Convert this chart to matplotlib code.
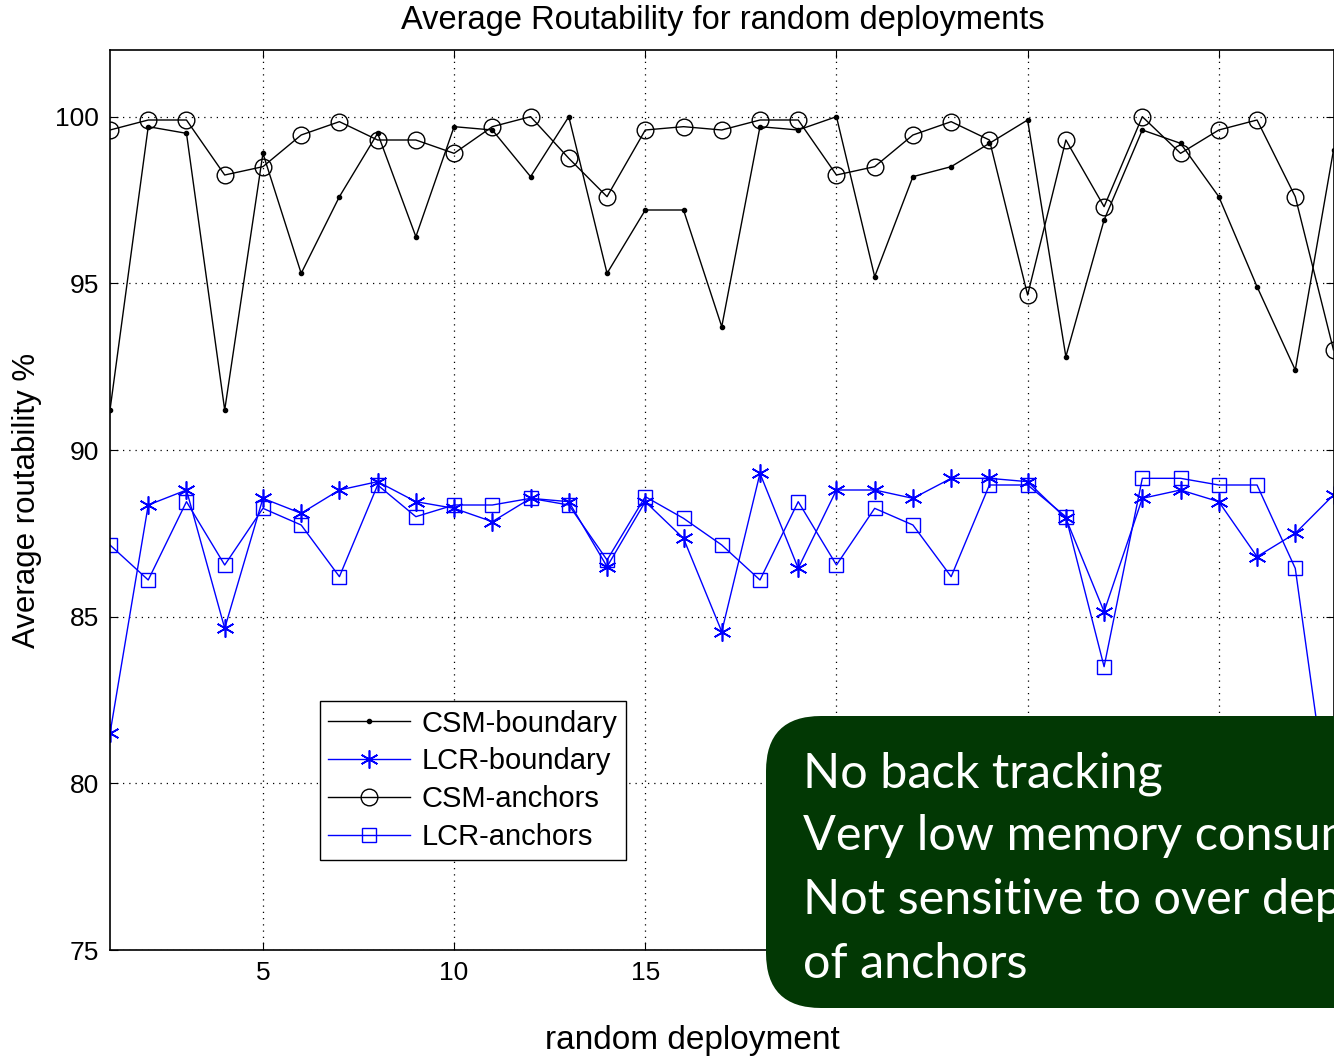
import numpy as np
import matplotlib
matplotlib.use("Agg")
import matplotlib.pyplot as plt
from matplotlib.patches import FancyBboxPatch

# routability per random deployment (percent)
deployments = np.arange(1, 34)
csm_boundary = [91.2, 99.7, 99.5, 91.2, 98.9, 95.3, 97.6, 99.5, 96.4, 99.7, 99.6,
                98.2, 100.0, 95.3, 97.2, 97.2, 93.7, 99.7, 99.6, 100.0, 95.2, 98.2,
                98.5, 99.2, 99.9, 92.8, 96.9, 99.6, 99.2, 97.6, 94.9, 92.4, 99.0]
lcr_boundary = [81.5, 88.35, 88.8, 84.65, 88.55, 88.1, 88.8, 89.05, 88.45, 88.25, 87.85,
                88.55, 88.45, 86.5, 88.45, 87.35, 84.55, 89.3, 86.45, 88.8, 88.8, 88.55,
                89.15, 89.15, 89.05, 87.95, 85.15, 88.55, 88.8, 88.45, 86.8, 87.5, 88.65]
csm_anchors = [99.6, 99.9, 99.9, 98.25, 98.5, 99.45, 99.85, 99.3, 99.3, 98.9, 99.7,
               100.0, 98.75, 97.6, 99.6, 99.7, 99.6, 99.9, 99.9, 98.25, 98.5, 99.45,
               99.85, 99.3, 94.65, 99.3, 97.3, 100.0, 98.9, 99.6, 99.9, 97.6, 93.0]
lcr_anchors = [87.15, 86.1, 88.45, 86.55, 88.25, 87.75, 86.2, 88.95, 88.0, 88.35, 88.35,
               88.55, 88.35, 86.7, 88.6, 87.95, 87.15, 86.1, 88.45, 86.55, 88.25, 87.75,
               86.2, 88.95, 88.95, 88.0, 83.5, 89.15, 89.15, 88.95, 88.95, 86.45, 78.2]

notes = ["No back tracking",
         "Very low memory consumption",
         "Not sensitive to over deployment",
         "of anchors"]

plt.rcParams['font.family'] = ['Liberation Sans', 'DejaVu Sans']

W, H = 1334, 1056
fig = plt.figure(figsize=(W / 100, H / 100), dpi=100)
ax = fig.add_axes([110 / W, 106 / H, (1333.5 - 110) / W, 900 / H])

blue = (0, 0, 1)
ax.plot(deployments, csm_boundary, color='k', lw=1, marker='.', ms=6, label='CSM-boundary')
ax.plot(deployments, lcr_boundary, color=blue, lw=1, marker=(6, 2, 0), ms=13, mew=1.2,
        label='LCR-boundary')
ax.plot(deployments, csm_anchors, color='k', lw=1, marker='o', ms=12, mfc='none', mew=1,
        label='CSM-anchors')
ax.plot(deployments, lcr_anchors, color=blue, lw=1, marker='s', ms=10, mfc='none', mew=1,
        label='LCR-anchors')

ax.set_xlim(1, 33)
ax.set_ylim(75, 102)
ax.set_xticks([5, 10, 15, 20, 25, 30])
ax.set_yticks([75, 80, 85, 90, 95, 100])
ax.tick_params(direction='in', top=True, right=True, length=6, labelsize=19, pad=8)
ax.grid(True, color='k', linestyle=(0, (1, 4)), linewidth=0.9)
for s in ax.spines.values():
    s.set_linewidth(1.2)

leg = ax.legend(loc='lower left', bbox_to_anchor=(0.1714, 0.1), borderaxespad=0,
                fontsize=21, numpoints=1, handlelength=2.8, handletextpad=0.38,
                labelspacing=0.34, borderpad=0.3, fancybox=False, framealpha=1,
                edgecolor='k')
leg.get_frame().set_linewidth(1.0)

fig.text(723 / W, 1 - 21 / H, 'Average Routability for random deployments',
         ha='center', va='center', fontsize=23.5)
fig.text(692 / W, 1 - 1041 / H, 'random deployment', ha='center', va='center', fontsize=24)
fig.text(27 / W, 1 - 500 / H, 'Average routability %', ha='center', va='center',
         rotation=90, fontsize=22.5)

# dark green note box over the lower right corner
over = fig.add_axes([0, 0, 1, 1])
over.set_xlim(0, W)
over.set_ylim(H, 0)
over.axis('off')
over.patch.set_alpha(0)
box = FancyBboxPatch((766, 716), 700, 292, boxstyle='round,pad=0,rounding_size=55',
                     facecolor='#023804', edgecolor='none')
over.add_patch(box)
for i, line in enumerate(notes):
    over.text(803, 787 + i * 63.5, line, color='white', fontsize=35,
              family=['Lato', 'DejaVu Sans'], va='baseline', ha='left')

fig.savefig('out.png', dpi=100)
